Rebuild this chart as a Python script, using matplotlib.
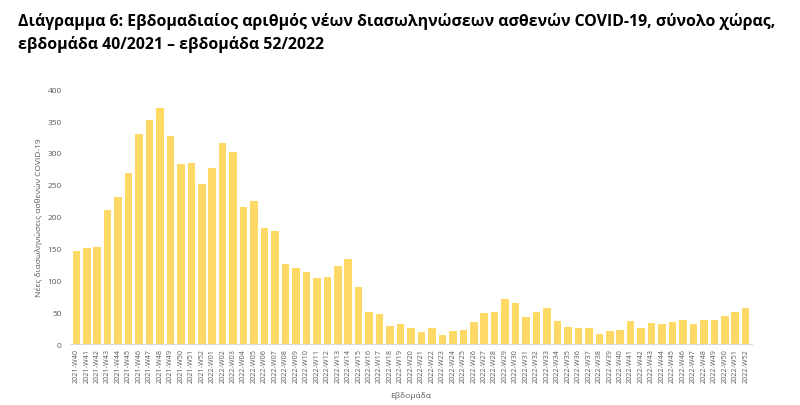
import matplotlib
matplotlib.use('Agg')
import matplotlib.pyplot as plt
import numpy as np

weeks = ['2021-W%02d' % w for w in range(40, 53)] + ['2022-W%02d' % w for w in range(1, 53)]
values = [146, 151, 152, 211, 230, 268, 330, 352, 371, 326, 283, 284, 251,
          277, 315, 301, 215, 225, 182, 178, 126, 120, 113, 103, 105, 123, 133,
          90, 51, 47, 28, 32, 25, 19, 26, 15, 21, 22, 35, 49, 50, 70, 64, 43,
          51, 56, 37, 27, 25, 25, 16, 20, 22, 37, 26, 33, 32, 35, 38, 31, 38,
          38, 44, 51, 57]
title = ('Διάγραμμα 6: Εβδομαδιαίος αριθμός νέων διασωληνώσεων ασθενών COVID-19, σύνολο χώρας,\n'
         'εβδομάδα 40/2021 – εβδομάδα 52/2022')
ylabel = 'Νέες διασωληνώσεις ασθενών COVID-19'
xlabel = 'Εβδομάδα'

plt.rcParams['font.family'] = ['Open Sans', 'DejaVu Sans']
gray = '#595959'

fig = plt.figure(figsize=(8, 4.06), dpi=100)
ax = fig.add_axes([0.0875, 0.150, 0.8525, 0.628])

xs = np.arange(len(values))
ax.bar(xs, values, width=0.72, color='#FFD966', zorder=2)

ax.set_xlim(-0.6, len(values) - 0.4)
ax.set_ylim(0, 400)
ax.set_yticks(range(0, 401, 50))
ax.set_xticks(xs)
ax.set_xticklabels(weeks, rotation=90, fontsize=5.2, color=gray)
ax.tick_params(axis='y', labelsize=6, colors=gray, length=0, pad=6)
ax.tick_params(axis='x', length=0, pad=3)

for s in ['top', 'right', 'left']:
    ax.spines[s].set_visible(False)
ax.spines['bottom'].set_color('#d9d9d9')
ax.spines['bottom'].set_linewidth(0.8)

ax.set_ylabel(ylabel, fontsize=6, color=gray)
ax.yaxis.set_label_coords(-0.04, 0.5)
ax.set_xlabel(xlabel, fontsize=6, color=gray, labelpad=6)

fig.text(0.022, 0.968, title, fontsize=11.45, fontweight='bold', color='black',
         va='top', ha='left', linespacing=1.5)

fig.savefig('out.png', dpi=100)
